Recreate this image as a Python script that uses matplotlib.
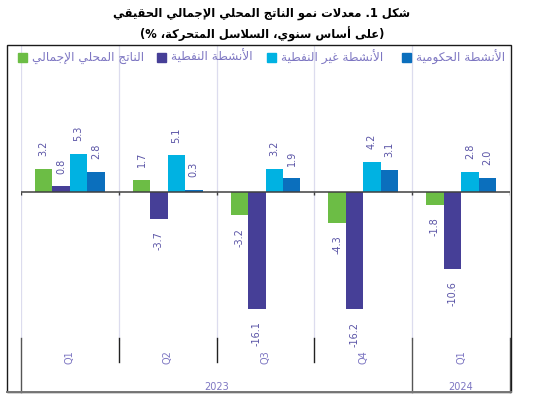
import matplotlib
matplotlib.use("Agg")
import matplotlib.pyplot as plt
import matplotlib.patches as mpatches
import matplotlib.transforms as mtransforms
import numpy as np

# ---- data ----
QUARTERS = ["Q1", "Q2", "Q3", "Q4", "Q1"]
YEARS = ["2023", "2024"]
YEAR_SPANS = [(0, 4), (4, 5)]
SERIES_NAMES = [
    "الناتج المحلي الإجمالي",
    "الأنشطة النفطية",
    "الأنشطة غير النفطية",
    "الأنشطة الحكومية",
]
GDP = [3.2, 1.7, -3.2, -4.3, -1.8]
OIL = [0.8, -3.7, -16.1, -16.2, -10.6]
NON_OIL = [5.3, 5.1, 3.2, 4.2, 2.8]
GOV = [2.8, 0.3, 1.9, 3.1, 2.0]
TITLE_1 = "شكل 1. معدلات نمو الناتج المحلي الإجمالي الحقيقي"
TITLE_2 = "(على أساس سنوي، السلاسل المتحركة، %)"

COLORS = ["#6cbd45", "#463f97", "#00b2e2", "#0b6fbd"]
LABEL_COLOR = "#5a54a6"
LEGEND_COLOR = "#7d76c2"
GRID_COLOR = "#dcdcee"

# ---- minimal arabic shaping (no bidi libs available) ----
DUAL = {"ب": 0xFE8F, "ت": 0xFE95, "ث": 0xFE99, "ج": 0xFE9D, "ح": 0xFEA1,
        "خ": 0xFEA5, "س": 0xFEB1, "ش": 0xFEB5, "ص": 0xFEB9, "ض": 0xFEBD,
        "ط": 0xFEC1, "ظ": 0xFEC5, "ع": 0xFEC9, "غ": 0xFECD, "ف": 0xFED1,
        "ق": 0xFED5, "ك": 0xFED9, "ل": 0xFEDD, "م": 0xFEE1, "ن": 0xFEE5,
        "ه": 0xFEE9, "ي": 0xFEF1, "ئ": 0xFE89}
RIGHT = {"آ": 0xFE81, "أ": 0xFE83, "ؤ": 0xFE85, "إ": 0xFE87, "ا": 0xFE8D,
         "ة": 0xFE93, "د": 0xFEA9, "ذ": 0xFEAB, "ر": 0xFEAD, "ز": 0xFEAF,
         "و": 0xFEED, "ى": 0xFEEF}
LAM_ALEF = {"آ": 0xFEF5, "أ": 0xFEF7, "إ": 0xFEF9, "ا": 0xFEFB}
MIRROR = {"(": ")", ")": "("}


def ar(text):
    out = []
    prev = False
    i, n = 0, len(text)
    while i < n:
        c = text[i]
        nxt = text[i + 1] if i + 1 < n else ""
        if c == "ل" and nxt in LAM_ALEF:
            out.append(chr(LAM_ALEF[nxt] + (1 if prev else 0)))
            prev = False
            i += 2
            continue
        if c in DUAL or c in RIGHT:
            to_next = c in DUAL and (nxt in DUAL or nxt in RIGHT)
            base = DUAL.get(c, RIGHT.get(c))
            form = {(False, False): 0, (True, False): 1,
                    (False, True): 2, (True, True): 3}[(prev, to_next)]
            out.append(chr(base + form))
            prev = to_next
        else:
            out.append(c)
            prev = False
        i += 1
    return "".join(MIRROR.get(ch, ch) for ch in reversed(out))


W, H = 555, 397
fig = plt.figure(figsize=(W / 100, H / 100), dpi=100)
plt.rcParams["font.family"] = ["DejaVu Sans"]

# axes box in pixels: x 21..510, y 45..341 (top-down)
ax = fig.add_axes([21 / W, 1 - 341 / H, (510 - 21) / W, (341 - 45) / H])
ax.set_xlim(0, 5)
ax.set_ylim(-20.55, 20.28)
ax.axis("off")

x = np.arange(len(QUARTERS)) + 0.5
width = 0.178
series = [GDP, OIL, NON_OIL, GOV]
for k, (vals, col) in enumerate(zip(series, COLORS)):
    xs = x + (k - 1.5) * width
    ax.bar(xs, vals, width=width, color=col, zorder=3)
    for xi, v in zip(xs, vals):
        off = 9 if v >= 0 else -9
        ax.annotate(f"{v:.1f}", (xi, v), xytext=(0, off), textcoords="offset points",
                    rotation=90, ha="center", va="bottom" if v >= 0 else "top",
                    fontsize=7, color=LABEL_COLOR, zorder=4)

# vertical category grid lines
ax.vlines(np.arange(6), -20.55, 20.28, color=GRID_COLOR, lw=0.9, zorder=1)
ax.axhline(0, color="#404040", lw=1.1, zorder=5)
ax.vlines(np.arange(6), -0.45, 0, color="#404040", lw=1, zorder=5)

# category axis below the plot
trans = mtransforms.blended_transform_factory(ax.transData, ax.transAxes)
for b in [1, 2, 3]:
    ax.plot([b, b], [0.01, -0.072], color="#222222", lw=1, transform=trans, clip_on=False)
for b in [0, 4, 5]:
    ax.plot([b, b], [0.01, -0.172], color="#555555", lw=1, transform=trans, clip_on=False)
for xi, q in zip(x, QUARTERS):
    ax.text(xi, -0.055, q, rotation=90, ha="center", va="center", fontsize=7,
            color=LEGEND_COLOR, transform=trans)
for (a, b), yr in zip(YEAR_SPANS, YEARS):
    ax.text((a + b) / 2, -0.155, yr, ha="center", va="center", fontsize=7,
            color=LEGEND_COLOR, transform=trans)

# outer frame
fig.add_artist(mpatches.Rectangle((7 / W, 1 - 392 / H), (511 - 7) / W, (392 - 45) / H,
                                  transform=fig.transFigure, fill=False,
                                  ec="#1a1a1a", lw=1))
fig.add_artist(plt.Line2D([7 / W, 511 / W], [1 - 392 / H] * 2, color="#777777", lw=1.4,
                          transform=fig.transFigure))

# legend (square left of text, entries left-to-right)
sq_left = [18, 157, 267, 402]
for px, name, col in zip(sq_left, SERIES_NAMES, COLORS):
    fig.add_artist(mpatches.Rectangle((px / W, 1 - 62 / H), 9 / W, 9 / H,
                                      transform=fig.transFigure, color=col))
    fig.text((px + 14) / W, 1 - 57 / H, ar(name), ha="left", va="center",
             fontsize=8.7, color=LEGEND_COLOR)

fig.text(262 / W, 1 - 14 / H, ar(TITLE_1), ha="center", va="center",
         fontsize=8.3, fontweight="bold", color="black")
fig.text(262 / W, 1 - 34 / H, ar(TITLE_2), ha="center", va="center",
         fontsize=8.3, fontweight="bold", color="black")

fig.savefig("out.png", dpi=100)
